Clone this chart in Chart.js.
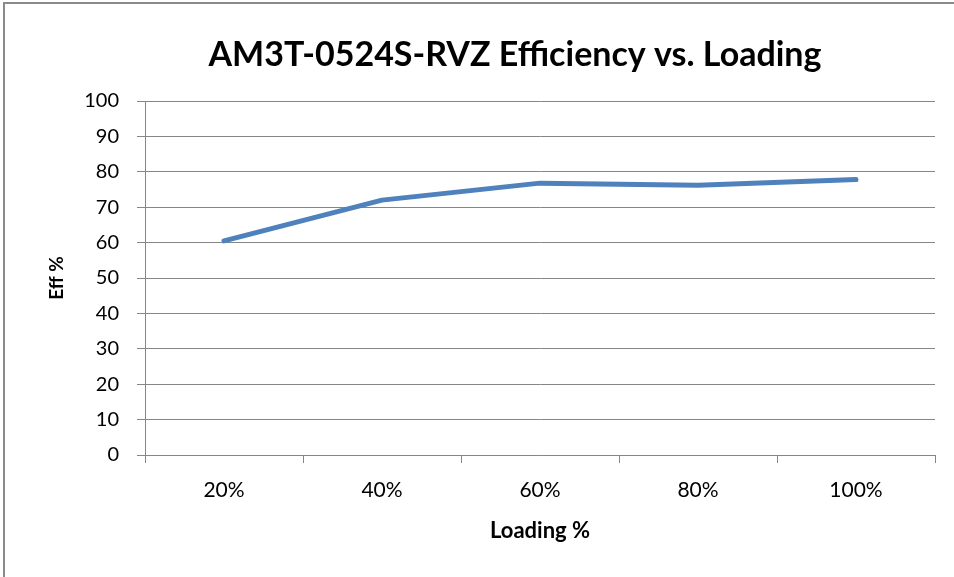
<!DOCTYPE html>
<html>
<head>
<meta charset="utf-8">
<script src="https://cdn.jsdelivr.net/npm/chart.js@4.4.0/dist/chart.umd.min.js"></script>
<style>
  html, body { margin: 0; padding: 0; background: #fff; }
  #wrap { position: relative; width: 954px; height: 577px; overflow: hidden; }
  #frame { position: absolute; left: 3px; top: 2px; width: 1000px; height: 700px; border: 2px solid #8a8a8a; box-sizing: border-box; pointer-events: none; }
</style>
</head>
<body>
<div id="wrap">
  <canvas id="myChart" width="954" height="577"></canvas>
  <div id="frame"></div>
</div>
<script>
var loadLabels = ['20%', '40%', '60%', '80%', '100%'];
var effValues = [60.5, 72.0, 76.8, 76.2, 77.8];
var chartTitle = 'AM3T-0524S-RVZ Efficiency vs. Loading';

Chart.defaults.font.family = "Lato, 'Open Sans', sans-serif";
Chart.defaults.color = '#000';

var gridColor = '#868686';

// the original title sits a bit left of the plot centre, so draw it by hand
var titlePlugin = {
    id: 'offsetTitle',
    afterDraw: function (chart) {
        var c = chart.ctx;
        c.save();
        c.font = "bold 34px Lato, 'Open Sans', sans-serif";
        c.fillStyle = '#000';
        c.textAlign = 'center';
        c.textBaseline = 'middle';
        c.fillText(chartTitle, 515, 55);
        c.restore();
    }
};

var ctx = document.getElementById('myChart').getContext('2d');
var myChart = new Chart(ctx, {
    type: 'line',
    data: {
        labels: loadLabels,
        datasets: [{
            data: effValues,
            borderColor: '#4F81BD',
            borderWidth: 5,
            pointRadius: 0,
            tension: 0,
            borderCapStyle: 'round',
            borderJoinStyle: 'round'
        }]
    },
    plugins: [titlePlugin],
    options: {
        responsive: false,
        animation: false,
        layout: {
            padding: { left: 0, right: 19, top: 101, bottom: 0 }
        },
        plugins: {
            legend: { display: false },
            tooltip: { enabled: false },
            title: { display: false }
        },
        scales: {
            x: {
                offset: true,
                grid: {
                    offset: true,
                    drawOnChartArea: false,
                    drawTicks: true,
                    tickLength: 8,
                    color: gridColor
                },
                border: { color: gridColor, width: 1 },
                ticks: { font: { size: 21 }, padding: 15, color: '#000' },
                title: {
                    display: true,
                    text: 'Loading %',
                    font: { size: 22, weight: 'bold' },
                    padding: { top: 0, bottom: 33 }
                },
                afterFit: function (scale) { scale.height = 122; }
            },
            y: {
                min: 0,
                max: 100,
                ticks: { stepSize: 10, font: { size: 20 }, padding: 18, color: '#000' },
                grid: {
                    color: gridColor,
                    lineWidth: 1,
                    drawTicks: true,
                    tickLength: 8
                },
                border: { color: gridColor, width: 1 },
                title: {
                    display: true,
                    text: 'Eff %',
                    font: { size: 19, weight: 'bold' },
                    padding: { top: 45, bottom: 0 }
                },
                afterFit: function (scale) { scale.width = 145; }
            }
        }
    }
});
</script>
</body>
</html>
